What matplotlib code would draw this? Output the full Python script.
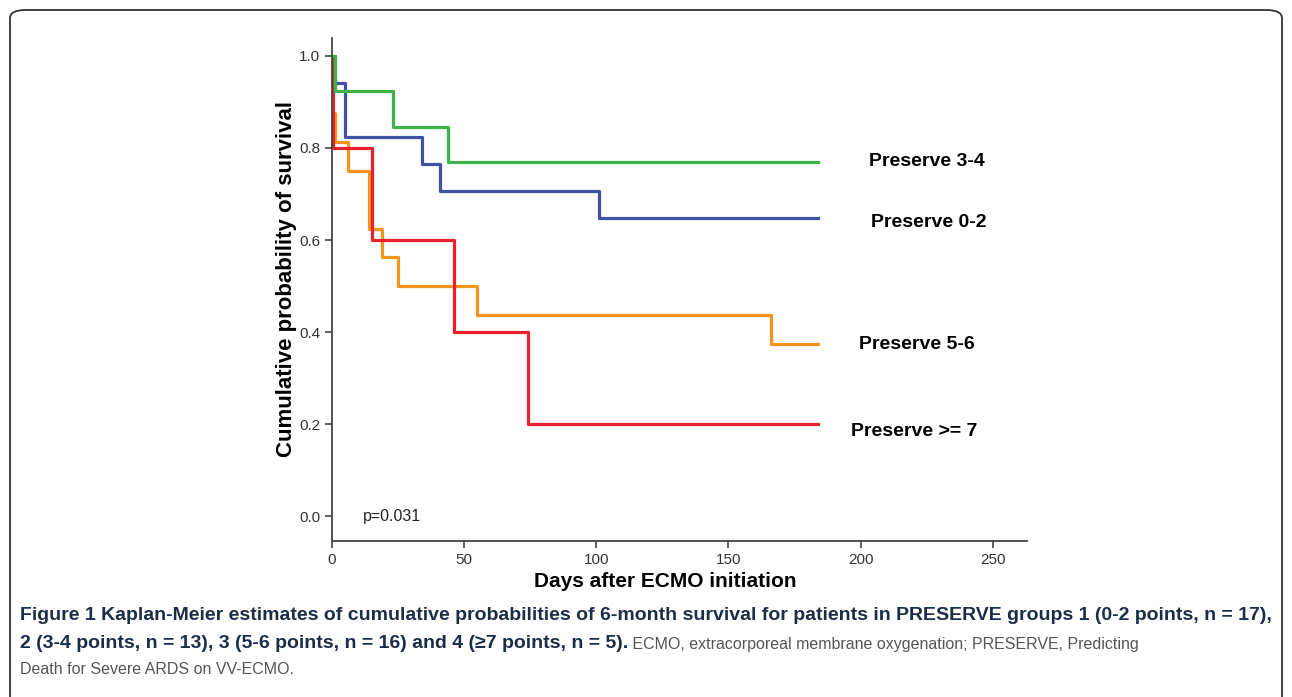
import matplotlib
matplotlib.use("Agg")
import matplotlib.pyplot as plt
from matplotlib.patches import FancyBboxPatch

# Kaplan-Meier step data (days, survival)
green_t = [0, 1, 23, 44, 184]
green_s = [1.0, 0.923, 0.846, 0.769, 0.769]
blue_t = [0, 1, 5, 34, 41, 101, 184]
blue_s = [1.0, 0.941, 0.824, 0.765, 0.706, 0.647, 0.647]
orange_t = [0, 1, 6, 14, 19, 25, 55, 166, 184]
orange_s = [0.875, 0.8125, 0.75, 0.625, 0.5625, 0.5, 0.4375, 0.375, 0.375]
red_t = [0, 0.3, 15, 46, 74, 184]
red_s = [1.0, 0.8, 0.6, 0.4, 0.2, 0.2]

group_labels = ["Preserve 3-4", "Preserve 0-2", "Preserve 5-6", "Preserve >= 7"]
label_x = [203, 204, 199.5, 196.5]
label_y = [0.770, 0.639, 0.372, 0.185]

x_ticks = [0, 50, 100, 150, 200, 250]
y_ticks = [0.0, 0.2, 0.4, 0.6, 0.8, 1.0]

plt.rcParams['font.family'] = ['Liberation Sans', 'DejaVu Sans']

fig = plt.figure(figsize=(12.92, 6.97), dpi=100)
border = FancyBboxPatch((10 / 1292, -0.05), 1272 / 1292, 1.05 - 10 / 697,
                        boxstyle="round,pad=0,rounding_size=0.012",
                        transform=fig.transFigure, fill=False,
                        edgecolor='#333333', linewidth=1.3)
fig.patches.append(border)

ax = fig.add_axes([0.257, 0.2238, 0.538, 0.7217])
ax.step(orange_t, orange_s, where='post', color='#f7941d', linewidth=2.3)
ax.step(red_t, red_s, where='post', color='#e8212d', linewidth=2.3)
ax.step(blue_t, blue_s, where='post', color='#3f51a8', linewidth=2.3)
ax.step(green_t, green_s, where='post', color='#3cb44a', linewidth=2.3)

for t, x, y in zip(group_labels, label_x, label_y):
    ax.text(x, y, t, fontsize=14, fontweight='bold', va='center', ha='left')

ax.text(11.5, 0.0, "p=0.031", fontsize=11.5, va='center', ha='left', color='#222222')

ax.set_xlim(0, 263)
ax.set_ylim(-0.054, 1.039)
ax.set_xticks(x_ticks)
ax.set_yticks(y_ticks)
ax.set_yticklabels([f"{v:.1f}" for v in y_ticks])
ax.tick_params(direction='out', length=5, width=1.2, color='#444444',
               labelsize=11, labelcolor='#333333')
for s in ['top', 'right']:
    ax.spines[s].set_visible(False)
for s in ['left', 'bottom']:
    ax.spines[s].set_color('#444444')
    ax.spines[s].set_linewidth(1.3)

ax.set_xlabel("Days after ECMO initiation", fontsize=15, fontweight='bold')
ax.xaxis.set_label_coords(0.479, -0.062)
ax.set_ylabel("Cumulative probability of survival", fontsize=16, fontweight='bold')
ax.yaxis.set_label_coords(-0.05, 0.52)

cap_color = '#1c2d48'
fig.text(20 / 1292, 1 - 616 / 697,
         "Figure 1 Kaplan-Meier estimates of cumulative probabilities of 6-month survival "
         "for patients in PRESERVE groups 1 (0-2 points, n = 17),",
         fontsize=14, fontweight='bold', color=cap_color, va='center')
t2 = fig.text(20 / 1292, 1 - 644 / 697,
              "2 (3-4 points, n = 13), 3 (5-6 points, n = 16) and 4 (\u22657 points, n = 5).",
              fontsize=14, fontweight='bold', color=cap_color, va='center')
fig.canvas.draw()
bb = t2.get_window_extent()
fig.text(bb.x1 / fig.bbox.width, 1 - 644 / 697,
         " ECMO, extracorporeal membrane oxygenation; PRESERVE, Predicting",
         fontsize=11.5, color='#555555', va='center')
fig.text(20 / 1292, 1 - 670 / 697, "Death for Severe ARDS on VV-ECMO.",
         fontsize=11.5, color='#555555', va='center')

fig.savefig("out.png", dpi=100)
